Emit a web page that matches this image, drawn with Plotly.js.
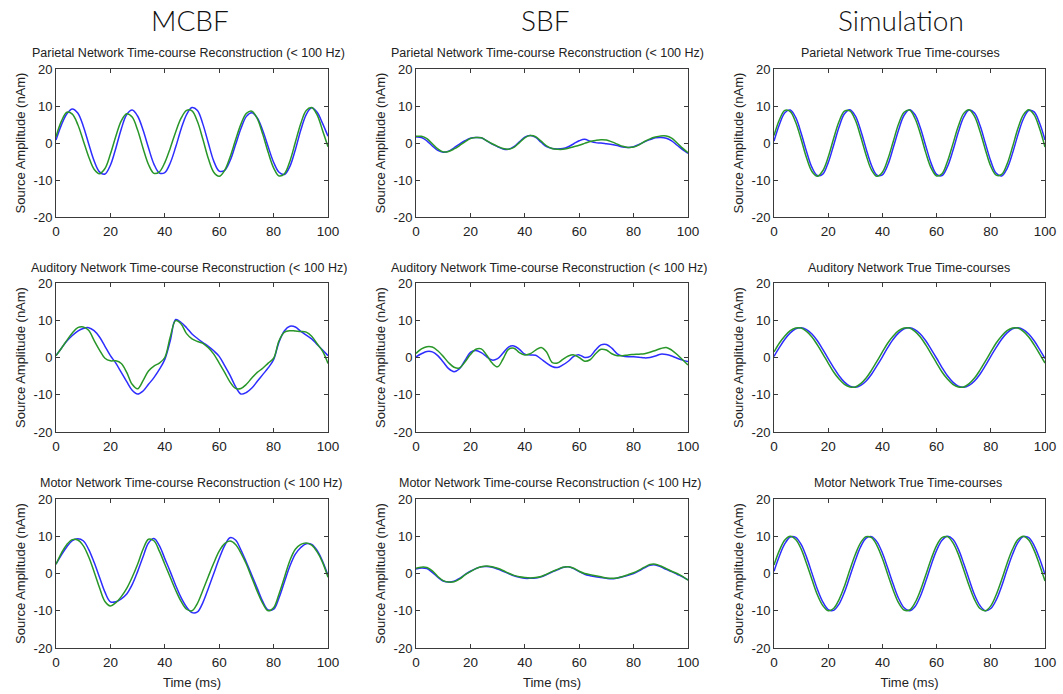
<!DOCTYPE html>
<html>
<head>
<meta charset="utf-8">
<script src="https://cdn.plot.ly/plotly-3.0.1.min.js"></script>
<style>html,body{margin:0;padding:0;background:#fff;}#chart{width:1063px;height:694px;}</style>
</head>
<body>
<div id="chart"></div>
<script>
// ---- data ----
const timeMs = [0,2,4,6,8,10,12,14,16,18,20,22,24,26,28,30,32,34,36,38,40,42,44,46,48,50,52,54,56,58,60,62,64,66,68,70,72,74,76,78,80,82,84,86,88,90,92,94,96,98,100];

const columnHeaders = ["MCBF", "SBF", "Simulation"];
const panelTitles = [
  "Parietal Network Time-course Reconstruction (< 100 Hz)",
  "Parietal Network Time-course Reconstruction (< 100 Hz)",
  "Parietal Network True Time-courses",
  "Auditory Network Time-course Reconstruction (< 100 Hz)",
  "Auditory Network Time-course Reconstruction (< 100 Hz)",
  "Auditory Network True Time-courses",
  "Motor Network Time-course Reconstruction (< 100 Hz)",
  "Motor Network Time-course Reconstruction (< 100 Hz)",
  "Motor Network True Time-courses"
];
const xTickValues = [0, 20, 40, 60, 80, 100];
const yTickValues = [-20, -10, 0, 10, 20];
const yAxisLabel = "Source Amplitude (nAm)";
const xAxisLabel = "Time (ms)";

// Parietal
const parietalMcbfBlue = [0.8,4.9,7.9,9.2,8.1,4.6,-0.2,-4.8,-7.8,-8.4,-6.0,-1.4,3.8,7.7,8.9,7.3,3.5,-1.3,-5.7,-8.1,-8.0,-5.4,-1.1,3.8,7.7,9.6,8.8,5.1,0.0,-4.9,-7.6,-7.4,-4.8,-0.5,3.9,7.2,8.2,6.8,3.4,-1.0,-5.2,-7.9,-8.5,-6.3,-1.8,3.5,7.7,9.5,8.3,5.3,1.8];
const parietalMcbfGreen = [1.7,5.9,8.3,7.8,5.0,0.7,-3.7,-7.1,-8.3,-6.9,-3.0,1.8,6.0,7.9,7.0,3.5,-1.4,-5.8,-8.2,-7.8,-5.3,-1.4,3.0,6.7,8.8,8.7,5.8,1.0,-4.2,-7.9,-9.0,-7.4,-3.8,0.8,5.1,8.0,8.6,6.6,2.4,-2.5,-6.7,-8.9,-8.3,-4.9,0.2,5.3,8.8,9.6,7.6,3.4,-1.0];
const parietalSbfBlue = [1.6,1.5,0.6,-0.8,-2.0,-2.5,-2.2,-1.3,-0.3,0.6,1.3,1.5,1.4,0.6,-0.3,-1.0,-1.6,-1.7,-1.0,0.3,1.6,2.0,1.5,0.2,-1.0,-1.5,-1.6,-1.5,-1.0,-0.2,0.6,1.0,0.5,0.1,0.0,-0.2,-0.4,-0.7,-1.1,-1.2,-1.0,-0.4,0.3,0.9,1.4,1.5,1.3,0.6,-0.6,-1.8,-2.8];
const parietalSbfGreen = [1.8,1.8,1.2,-0.2,-1.6,-2.4,-2.3,-1.6,-0.7,0.3,1.2,1.5,1.4,0.6,-0.2,-0.9,-1.5,-1.7,-1.2,0.1,1.4,2.0,1.7,0.5,-0.8,-1.5,-1.7,-1.7,-1.4,-1.0,-0.6,-0.1,0.4,0.7,0.9,0.8,0.3,-0.3,-0.9,-1.2,-1.1,-0.5,0.4,1.1,1.6,1.9,1.9,1.3,0.0,-1.4,-2.6];
const parietalSimBlue = [0.5,5.0,8.2,8.9,6.9,2.7,-2.3,-6.6,-8.8,-8.4,-5.3,-0.6,4.3,7.9,9.0,7.3,3.4,-1.6,-6.1,-8.7,-8.6,-5.9,-1.3,3.6,7.5,9.0,7.7,4.1,-0.8,-5.5,-8.5,-8.8,-6.4,-2.1,2.9,7.0,8.9,8.1,4.8,-0.1,-4.9,-8.2,-8.9,-6.9,-2.8,2.2,6.5,8.8,8.4,5.4,0.8];
const parietalSimGreen = [2.0,6.3,8.8,8.5,5.6,1.0,-4.0,-7.7,-9.0,-7.5,-3.8,1.2,5.8,8.6,8.7,6.2,1.7,-3.3,-7.3,-9.0,-7.9,-4.4,0.4,5.2,8.3,8.9,6.7,2.5,-2.6,-6.8,-8.9,-8.3,-5.0,-0.3,4.5,8.0,9.0,7.2,3.2,-1.8,-6.3,-8.7,-8.5,-5.7,-1.1,3.9,7.6,9.0,7.6,3.9,-1.1];

// Auditory
const auditoryMcbfBlue = [0.5,2.5,4.4,5.9,7.1,7.8,8.0,7.2,5.5,3.0,0.5,-1.5,-4.0,-6.5,-8.8,-9.8,-9.0,-7.2,-5.4,-3.2,-0.5,4.5,10.2,9.4,8.0,6.3,5.1,4.0,3.0,1.8,0.3,-2.2,-4.8,-7.8,-9.8,-9.4,-8.2,-6.4,-4.6,-2.8,-0.6,4.2,7.2,8.4,8.2,7.0,6.0,5.0,3.5,2.0,0.5];
const auditoryMcbfGreen = [0.5,2.5,4.6,6.6,8.0,8.2,7.3,4.6,2.0,-0.2,-0.9,-0.9,-1.6,-4.0,-7.2,-8.4,-6.2,-3.6,-2.3,-1.5,0.0,5.5,9.9,9.0,6.4,5.0,4.3,3.8,2.6,0.9,-1.5,-4.0,-6.6,-8.3,-8.3,-7.2,-5.5,-4.0,-2.9,-1.5,-0.2,4.5,6.8,7.2,7.1,7.0,6.8,5.7,3.7,1.7,-1.6];
const auditorySbfBlue = [0.2,1.0,1.6,1.5,0.5,-1.2,-3.0,-3.8,-3.0,-0.8,1.4,1.9,1.3,0.2,-0.7,-0.3,1.2,2.8,3.1,2.2,0.9,0.7,0.6,-0.4,-1.5,-2.4,-2.7,-2.0,-1.0,0.3,0.7,0.0,0.3,2.0,3.4,3.5,2.5,1.0,0.4,0.2,0.2,0.1,-0.1,0.0,0.4,0.9,0.8,0.4,-0.2,-0.7,-1.1];
const auditorySbfGreen = [1.1,2.3,2.9,2.8,1.8,0.3,-1.4,-2.6,-2.8,-1.2,0.8,2.2,2.3,0.6,-1.5,-2.5,-0.4,2.2,2.5,1.3,0.7,1.0,2.0,2.7,1.5,-1.3,-1.5,-0.5,0.4,0.7,0.0,-1.0,-0.6,1.0,2.2,2.0,1.0,0.5,0.5,0.7,0.8,0.9,1.0,1.4,1.9,2.4,2.7,2.0,0.8,-0.6,-2.0];
const auditorySimBlue = [0.3,2.7,4.9,6.6,7.7,8.0,7.5,6.3,4.5,2.2,-0.3,-2.7,-4.9,-6.6,-7.7,-8.0,-7.5,-6.3,-4.5,-2.2,0.2,2.7,4.9,6.6,7.7,8.0,7.5,6.3,4.5,2.2,-0.2,-2.7,-4.9,-6.6,-7.7,-8.0,-7.5,-6.3,-4.5,-2.2,0.3,2.7,4.9,6.6,7.7,8.0,7.5,6.3,4.5,2.2,-0.3];
const auditorySimGreen = [1.5,3.9,5.8,7.2,7.9,7.9,7.0,5.5,3.4,1.0,-1.5,-3.9,-5.8,-7.2,-7.9,-7.9,-7.0,-5.5,-3.4,-1.0,1.5,3.9,5.8,7.2,7.9,7.9,7.0,5.5,3.4,1.0,-1.5,-3.9,-5.8,-7.2,-7.9,-7.9,-7.0,-5.5,-3.4,-1.0,1.5,3.9,5.8,7.2,7.9,7.9,7.0,5.5,3.4,1.0,-1.5];

// Motor
const motorMcbfBlue = [2.5,5.0,7.2,8.8,9.3,8.8,6.5,3.0,-1.0,-5.0,-7.6,-7.6,-6.8,-5.5,-3.0,0.5,4.5,8.2,9.4,7.5,4.0,0.5,-3.2,-6.5,-9.0,-10.5,-10.3,-7.8,-4.0,0.0,4.0,7.5,9.6,9.0,6.3,3.0,-0.5,-4.0,-7.5,-9.8,-9.6,-6.5,-2.2,2.0,5.2,7.0,8.0,7.8,6.2,3.3,-0.5];
const motorMcbfGreen = [2.5,5.5,7.8,9.1,9.0,7.5,4.5,0.5,-3.8,-7.5,-8.7,-7.8,-6.2,-4.0,-1.0,2.5,6.5,9.2,8.8,6.0,2.5,-1.0,-4.5,-7.5,-9.6,-10.0,-8.0,-4.5,-0.8,2.8,6.0,8.0,8.7,7.8,5.5,2.5,-1.2,-4.8,-8.0,-10.0,-9.2,-5.5,-1.0,3.5,6.5,7.8,8.2,7.6,5.8,3.0,-1.0];
const motorSbfBlue = [1.2,1.5,1.3,0.3,-1.0,-2.0,-2.3,-2.1,-1.3,-0.3,0.6,1.3,1.8,1.9,1.7,1.2,0.6,0.0,-0.6,-1.0,-1.3,-1.3,-1.2,-0.9,-0.3,0.4,1.0,1.6,1.8,1.3,0.5,-0.2,-0.6,-0.9,-1.1,-1.3,-1.4,-1.2,-0.9,-0.5,0.0,0.7,1.5,2.2,2.3,1.8,1.1,0.5,-0.2,-0.9,-1.7];
const motorSbfGreen = [1.4,1.7,1.6,0.7,-0.8,-1.9,-2.3,-2.2,-1.5,-0.4,0.5,1.3,1.8,2.0,1.8,1.4,0.8,0.1,-0.5,-0.9,-1.1,-1.2,-1.1,-0.8,-0.2,0.5,1.1,1.7,1.8,1.4,0.6,0.0,-0.3,-0.6,-0.9,-1.2,-1.3,-1.2,-0.8,-0.3,0.2,0.9,1.7,2.4,2.5,2.0,1.3,0.6,0.0,-0.8,-1.8];
const motorSimBlue = [0.6,4.7,8.0,9.8,9.7,7.8,4.4,0.1,-4.2,-7.6,-9.7,-9.9,-8.2,-5.0,-0.8,3.5,7.2,9.5,9.9,8.5,5.5,1.4,-2.9,-6.7,-9.2,-10.0,-8.9,-6.1,-2.1,2.3,6.2,8.9,10.0,9.2,6.6,2.7,-1.6,-5.7,-8.6,-10.0,-9.4,-7.1,-3.4,1.0,5.1,8.3,9.9,9.6,7.5,4.0,-0.3];
const motorSimGreen = [2.3,6.2,9.0,10.0,9.1,6.6,2.7,-1.6,-5.7,-8.6,-10.0,-9.4,-7.0,-3.4,1.0,5.1,8.3,9.9,9.6,7.5,4.0,-0.3,-4.5,-7.9,-9.8,-9.8,-7.9,-4.6,-0.4,3.9,7.5,9.6,9.9,8.3,5.2,1.0,-3.3,-7.0,-9.4,-10.0,-8.7,-5.7,-1.7,2.7,6.5,9.1,10.0,9.0,6.2,2.3,-2.0];

const panelBlue = [parietalMcbfBlue, parietalSbfBlue, parietalSimBlue, auditoryMcbfBlue, auditorySbfBlue, auditorySimBlue, motorMcbfBlue, motorSbfBlue, motorSimBlue];
const panelGreen = [parietalMcbfGreen, parietalSbfGreen, parietalSimGreen, auditoryMcbfGreen, auditorySbfGreen, auditorySimGreen, motorMcbfGreen, motorSbfGreen, motorSimGreen];

// ---- layout geometry (pixels in a 1063 x 694 page) ----
const W = 1063, H = 694;
const colPx = [[56, 328], [416, 688], [774, 1045]];
const rowPx = [[69, 217], [283, 432], [499, 648]];
const headerX = [190, 545, 901];
const headerY = 20;
const titleCenters = [[188, 547, 900], [189, 549, 909], [191, 550, 908]];
const titleY = [53, 268, 483];

const FONT = "Liberation Sans, Arial, Helvetica, sans-serif";
const HEADER_FONT = "Lato, Liberation Sans, Arial, sans-serif";
const BLUE = "rgb(45,45,255)";
const GREEN = "rgb(40,150,40)";
const AXIS = "#3a3a3a";
const TEXT = "#222";

const data = [];
const layout = {
  width: W, height: H,
  margin: {l: 0, r: 0, t: 0, b: 0},
  paper_bgcolor: "#fff", plot_bgcolor: "#fff",
  showlegend: false,
  font: {family: FONT, size: 12, color: TEXT},
  annotations: []
};

for (let i = 0; i < 9; i++) {
  const r = Math.floor(i / 3), c = i % 3;
  const sfx = i === 0 ? "" : String(i + 1);
  const xa = "x" + sfx, ya = "y" + sfx;
  data.push({x: timeMs, y: panelBlue[i], xaxis: xa, yaxis: ya, type: "scatter", mode: "lines",
             line: {color: BLUE, width: 1.5, shape: "spline", smoothing: 1}, hoverinfo: "skip"});
  data.push({x: timeMs, y: panelGreen[i], xaxis: xa, yaxis: ya, type: "scatter", mode: "lines",
             line: {color: GREEN, width: 1.5, shape: "spline", smoothing: 1}, hoverinfo: "skip"});
  const common = {showline: true, mirror: "ticks", ticks: "inside", ticklen: 4, tickwidth: 1,
                  linecolor: AXIS, tickcolor: AXIS, linewidth: 1, showgrid: false, zeroline: false,
                  fixedrange: true};
  layout["xaxis" + sfx] = Object.assign({}, common, {
    domain: [colPx[c][0] / W, colPx[c][1] / W], anchor: ya, range: [0, 100],
    tickmode: "array", tickvals: xTickValues, ticktext: xTickValues.map(String),
    tickfont: {family: FONT, size: 13.5, color: TEXT},
    ticklabelstandoff: 2,
    title: r === 2 ? {text: xAxisLabel, font: {family: FONT, size: 13, color: TEXT}, standoff: 8} : {text: ""}
  });
  layout["yaxis" + sfx] = Object.assign({}, common, {
    domain: [1 - rowPx[r][1] / H, 1 - rowPx[r][0] / H], anchor: xa, range: [-20, 20],
    tickmode: "array", tickvals: yTickValues, ticktext: yTickValues.map(String),
    tickfont: {family: FONT, size: 13, color: TEXT},
    title: {text: yAxisLabel, font: {family: FONT, size: 13, color: TEXT}, standoff: 5}
  });
  layout.annotations.push({text: panelTitles[i], xref: "paper", yref: "paper",
    x: titleCenters[r][c] / W, y: 1 - titleY[r] / H, xanchor: "center", yanchor: "middle",
    showarrow: false, font: {family: FONT, size: 12.5, color: TEXT}});
}
columnHeaders.forEach((h, c) => {
  layout.annotations.push({text: h, xref: "paper", yref: "paper", x: headerX[c] / W, y: 1 - headerY / H,
    xanchor: "center", yanchor: "middle", showarrow: false,
    font: {family: HEADER_FONT, size: 28, weight: 300, color: "#111"}});
});

Plotly.newPlot("chart", data, layout, {staticPlot: true, displayModeBar: false});
</script>
</body>
</html>
